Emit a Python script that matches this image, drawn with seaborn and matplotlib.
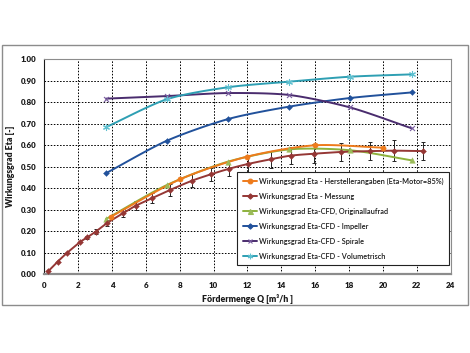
import numpy as np
import pandas as pd
import matplotlib
matplotlib.use("Agg")
import matplotlib.pyplot as plt
from matplotlib.lines import Line2D
from matplotlib.patches import Rectangle
import seaborn as sns

# ---------------- data ----------------
q_hersteller = [3.94, 8.02, 11.97, 15.97, 19.99]
eta_hersteller = [0.268, 0.442, 0.547, 0.600, 0.589]

q_messung = [0.24, 0.79, 1.32, 2.11, 2.54, 3.03, 3.72, 4.67, 5.40, 6.34, 7.42,
             8.71, 9.83, 10.91, 12.01, 13.37, 14.55, 15.95, 17.53, 19.24, 20.66, 22.39]
eta_messung = [0.015, 0.059, 0.098, 0.150, 0.172, 0.198, 0.239, 0.285, 0.319, 0.353, 0.392,
               0.435, 0.465, 0.491, 0.513, 0.535, 0.552, 0.561, 0.569, 0.573, 0.575, 0.573]
err_messung = [0.0, 0.0, 0.0, 0.0, 0.008, 0.012, 0.015, 0.018, 0.02, 0.023, 0.027,
               0.03, 0.03, 0.035, 0.04, 0.04, 0.04, 0.045, 0.04, 0.043, 0.05, 0.043]

q_cfd = [3.64, 7.23, 10.85, 14.47, 18.06, 21.70]
eta_original = [0.257, 0.415, 0.524, 0.581, 0.577, 0.530]
eta_impeller = [0.470, 0.621, 0.722, 0.780, 0.820, 0.846]
eta_spirale = [0.817, 0.829, 0.843, 0.834, 0.776, 0.679]
eta_volumetrisch = [0.684, 0.814, 0.870, 0.896, 0.919, 0.930]

labels = [
    "Wirkungsgrad Eta - Herstellerangaben (Eta-Motor=85%)",
    "Wirkungsgrad Eta - Messung",
    "Wirkungsgrad Eta-CFD, Originallaufrad",
    "Wirkungsgrad Eta-CFD - Impeller",
    "Wirkungsgrad Eta-CFD - Spirale",
    "Wirkungsgrad Eta-CFD - Volumetrisch",
]
x_ticks = list(range(0, 25, 2))
y_ticks = [i / 10 for i in range(0, 11)]


def smooth(x, y, n=16, tension=0.4):
    """Cardinal-spline curve through the points (Excel-like smoothed line)."""
    p = np.column_stack([x, y]).astype(float)
    p = np.vstack([2 * p[0] - p[1], p, 2 * p[-1] - p[-2]])
    out = []
    t = np.linspace(0, 1, n, endpoint=False)[:, None]
    h00 = 2 * t ** 3 - 3 * t ** 2 + 1
    h10 = t ** 3 - 2 * t ** 2 + t
    h01 = -2 * t ** 3 + 3 * t ** 2
    h11 = t ** 3 - t ** 2
    for i in range(1, len(p) - 2):
        p0, p1, p2, p3 = p[i - 1], p[i], p[i + 1], p[i + 2]
        m1 = tension * (p2 - p0)
        m2 = tension * (p3 - p1)
        out.append(h00 * p1 + h10 * m1 + h01 * p2 + h11 * m2)
    out.append(p[-2][None, :])
    out = np.vstack(out)
    return out[:, 0], out[:, 1]


sns.set_theme(style="white")
plt.rcParams["font.family"] = ["Lato", "DejaVu Sans"]

fig = plt.figure(figsize=(4.70, 3.53), dpi=100)
fig.patch.set_facecolor("white")
# chart area frame
fig.patches.append(Rectangle((2 / 470, 1 - 305 / 353), 466 / 470, 260 / 353,
                             transform=fig.transFigure, fill=False,
                             edgecolor="#8c8c8c", linewidth=1.0))

ax = fig.add_axes([44.3 / 470, 1 - 274.3 / 353, 406.4 / 470, 215 / 353])

series = [
    (q_hersteller, eta_hersteller, "#ee7b1c", "o", 3.8, None),
    (q_messung, eta_messung, "#953735", "D", 3.0, None),
    (q_cfd, eta_original, "#8db13c", "^", 4.0, "#9bbb59"),
    (q_cfd, eta_impeller, "#21519b", "D", 3.0, None),
    (q_cfd, eta_spirale, "#4a2c6e", "x", 3.6, "#7a5fa0"),
    (q_cfd, eta_volumetrisch, "#2e9fb3", (6, 2, 0), 4.4, "#5fc0d0"),
]

# error bars for the measurement
ax.errorbar(q_messung, eta_messung, yerr=err_messung, fmt="none", ecolor="#222222",
            elinewidth=0.7, capsize=1.6, capthick=0.7, zorder=3)

order = [2, 0, 1, 3, 4, 5]
for i in order:
    xs, ys, col, mk, ms, mcol = series[i]
    sx, sy = smooth(xs, ys)
    df = pd.DataFrame({"Q": sx, "eta": sy})
    sns.lineplot(data=df, x="Q", y="eta", ax=ax, color=col, linewidth=1.4,
                 sort=False, estimator=None, zorder=4)
    dfp = pd.DataFrame({"Q": xs, "eta": ys})
    mc = mcol if mcol else col
    if mk in ("x", (6, 2, 0)):
        ax.scatter(dfp["Q"], dfp["eta"], marker=mk, s=ms ** 2, color=mc,
                   linewidths=0.8, zorder=5)
    else:
        sns.scatterplot(data=dfp, x="Q", y="eta", ax=ax, marker=mk, s=ms ** 2,
                        color=mc, edgecolor=mc, linewidth=0.3, zorder=5)

ax.set_xlim(0, 24)
ax.set_ylim(0, 1.0)
ax.set_xticks(x_ticks)
ax.set_yticks(y_ticks)
ax.set_xticklabels([str(v) for v in x_ticks])
ax.set_yticklabels([f"{v:.2f}" for v in y_ticks])
ax.grid(True, color="black", linestyle=(0, (1.6, 1.6)), linewidth=0.7)
ax.set_axisbelow(True)

for s in ["top", "right"]:
    ax.spines[s].set_color("#8c8c8c")
    ax.spines[s].set_linewidth(0.8)
ax.spines["left"].set_color("#1a1a1a")
ax.spines["left"].set_linewidth(0.8)
ax.spines["bottom"].set_color("#8c8c8c")
ax.spines["bottom"].set_linewidth(1.6)

ax.tick_params(axis="both", which="major", labelsize=5.8, length=3, width=0.7,
               color="#333333", pad=2.5, labelcolor="#1a1a1a", direction="out")
for lab in ax.get_xticklabels() + ax.get_yticklabels():
    lab.set_fontweight("heavy")

ax.set_xlabel("Fördermenge Q [m³/h ]", fontsize=6.2, fontweight="heavy",
              color="#1a1a1a", labelpad=4)
ax.set_ylabel("Wirkungsgrad Eta [-]", fontsize=6.2, fontweight="heavy",
              color="#1a1a1a", labelpad=4)

handles = []
for xs, ys, col, mk, ms, mcol in series:
    mc = mcol if mcol else col
    handles.append(Line2D([0], [0], color=col, linewidth=1.4, marker=mk,
                          markersize=ms * 0.9, markerfacecolor=mc,
                          markeredgecolor=mc, markeredgewidth=0.8))
leg = ax.legend(handles, labels, loc="upper left",
                bbox_to_anchor=((237 - 44.3) / 406.4, (274.3 - 172) / 215),
                frameon=True, fancybox=False, framealpha=1,
                edgecolor="#222222", handlelength=1.9, handletextpad=0.3,
                labelspacing=1.08, borderpad=0.75, borderaxespad=0,
                prop={"size": 5.3, "weight": "semibold"})
leg.get_frame().set_linewidth(0.8)
for t in leg.get_texts():
    t.set_color("#1a1a1a")

fig.savefig("out.png", dpi=100, facecolor="white")
